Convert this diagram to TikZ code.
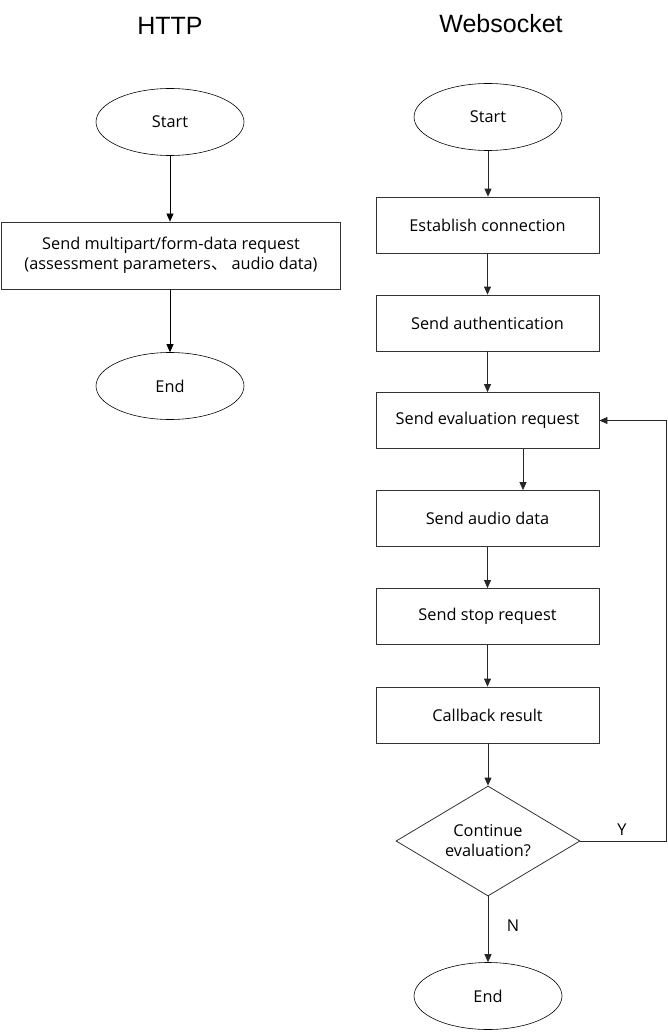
\documentclass[tikz,border=0pt]{standalone}
\usepackage{fontspec}
\setmainfont{Open Sans}
\newfontfamily\titlefont{Liberation Sans}
\newfontfamily\cjk{Noto Sans CJK SC}
\usetikzlibrary{shapes.geometric,arrows.meta}
\begin{document}
\begin{tikzpicture}[x=1pt,y=-1pt,
  every node/.style={font=\fontsize{16.3}{20}\selectfont, inner sep=0pt},
  term/.style={draw=black, line width=0.6pt, ellipse, minimum width=148pt, minimum height=67pt},
  procbox/.style={draw=black!80, line width=0.8pt, rectangle, align=center},
  decide/.style={draw=black!80, line width=0.8pt, diamond, aspect=1.68, minimum width=184pt, minimum height=110pt, align=center},
  conn/.style={draw=black!85, line width=0.8pt, -{Triangle[length=8pt,width=7pt]}},
  connL/.style={draw=black, line width=0.6pt, -{Triangle[length=8pt,width=7pt]}},
  ttl/.style={font=\titlefont\fontsize{25}{30}\selectfont},
  lbl/.style={font=\fontsize{16.3}{20}\selectfont}
]
\useasboundingbox (0,0) rectangle (668,1035);
% titles
\node[ttl] (t1) at (170,26) {HTTP};
\node[ttl] (t2) at (501,24) {Websocket};
% HTTP column
\node[term] (hs) at (170,122) {Start};
\node[procbox, minimum width=339pt, minimum height=67pt] (hb) at (171,255.5) {Send multipart/form-data request\\(assessment parameters{\cjk 、} audio data)};
\node[term] (he) at (170,386) {End};
\draw[connL] (hs.south) -- (hs.south |- hb.north);
\draw[connL] (hb.south -| he.north) -- (he.north);
% Websocket column
\tikzset{wbox/.style={procbox, minimum width=223pt, minimum height=56pt}}
\node[term] (ws) at (488,117) {Start};
\node[wbox] (w1) at (487.5,225) {Establish connection};
\node[wbox] (w2) at (487.5,323) {Send authentication};
\node[wbox] (w3) at (487.5,420.5) {Send evaluation request};
\node[wbox] (w4) at (487.5,518.5) {Send audio data};
\node[wbox] (w5) at (487.5,616.5) {Send stop request};
\node[wbox] (w6) at (487.5,715) {Callback result};
\node[decide] (wd) at (488,841) {Continue\\evaluation?};
\node[term] (we) at (488,996) {End};
\draw[conn] (ws.south) -- (ws.south |- w1.north);
\draw[conn] (w1.south) -- (w2.north);
\draw[conn] (w2.south) -- (w3.north);
\coordinate (a3) at (523,0);
\draw[conn] (w3.south -| a3) -- (w4.north -| a3);
\draw[conn] (w4.south) -- (w5.north);
\draw[conn] (w5.south) -- (w6.north);
\draw[conn] (w6.south -| wd.north) -- (wd.north);
\coordinate (loop) at (666,841);
\draw[conn] (wd.east) -- (loop) |- (w3.east);
\draw[conn] (wd.south) -- (we.north);
\node[lbl] (ly) at (622,830) {Y};
\node[lbl] (ln) at (513,926) {N};
\end{tikzpicture}
\end{document}
